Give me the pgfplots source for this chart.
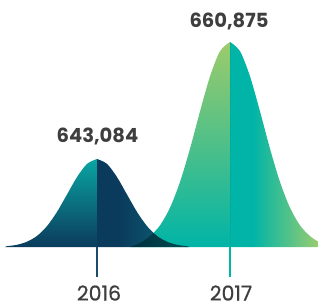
\documentclass[border=0pt]{standalone}
\usepackage{pgfplots}
\pgfplotsset{compat=1.18}
\usepackage{fontspec}
\setmainfont{Poppins}
\newfontfamily\yearfont{Poppins}[FakeBold=0.8]
\definecolor{navy}{HTML}{0B3B5C}
\definecolor{tealA}{HTML}{0AA5A3}
\definecolor{tealB}{HTML}{0B6E7E}
\definecolor{tealC}{HTML}{00B4A7}
\definecolor{greenA}{HTML}{9CCB6B}
\definecolor{greenB}{HTML}{98CD70}
\definecolor{txt}{HTML}{3E3E3E}
\definecolor{tickA}{HTML}{1D4B6B}
\pgfdeclarehorizontalshading{rsixteen}{100bp}{color(0bp)=(navy); color(25bp)=(navy); color(38bp)=(navy); color(75bp)=(tealB); color(100bp)=(tealB)}
\pgfdeclarehorizontalshading{rseventeen}{100bp}{color(0bp)=(tealC); color(25bp)=(tealC); color(38bp)=(tealC); color(75bp)=(greenB); color(100bp)=(greenB)}
\begin{document}
\begin{tikzpicture}
\begin{axis}[width=318pt,height=306pt,scale only axis,
  xmin=0,xmax=318,ymin=-59,ymax=247,hide axis,clip=false]
% 2016 left half
\addplot[draw=none,smooth,top color=tealA,bottom color=navy] coordinates {
(5,0)(7,0.8)(17,2.2)(27,5.3)(37,11.1)(47,20.9)(57,35.1)(67,52.5)(77,69.9)(87,83.1)(97,88)} \closedcycle;
% 2016 right half
\addplot[draw=none,smooth,shading=rsixteen] coordinates {
(97,88)(107,83.1)(117,69.9)(127,52.5)(137,35.1)(147,20.9)(157,11.1)(167,5.3)(177,2.2)(187,0.8)(189,0)} \closedcycle;
% 2017 left half
\addplot[draw=none,smooth,top color=greenA,bottom color=tealC,blend mode=multiply] coordinates {
(130,0)(140,4)(150,10.9)(160,21.6)(170,39.3)(180,65.0)(190,98.3)(200,135.6)(210,170.6)(220,195.8)(230,205)} \closedcycle;
% 2017 right half
\addplot[draw=none,smooth,shading=rseventeen,blend mode=multiply] coordinates {
(230,205)(240,195.8)(250,170.6)(260,135.6)(270,98.3)(280,65.0)(290,39.3)(300,21.6)(310,10.9)(318,5.5)} \closedcycle;
% ticks
\addplot[tickA,line width=2pt] coordinates {(97,0)(97,-30)};
\addplot[tealC,line width=2pt] coordinates {(230,0)(230,-30)};
\node[txt,inner sep=0pt,font=\yearfont\fontsize{20.5}{20.5}\selectfont] at (axis cs:99,-46) {2016};
\node[txt,inner sep=0pt,font=\yearfont\fontsize{20.5}{20.5}\selectfont] at (axis cs:231,-46) {2017};
\node[txt,inner sep=0pt,font=\bfseries\fontsize{19.5}{19.5}\selectfont] at (axis cs:97.5,111) {643,084};
\node[txt,inner sep=0pt,font=\bfseries\fontsize{19.5}{19.5}\selectfont] at (axis cs:229,226) {660,875};
\end{axis}
\pgfresetboundingbox
\useasboundingbox (current axis.south west) rectangle (current axis.north east);
\end{tikzpicture}
\end{document}
